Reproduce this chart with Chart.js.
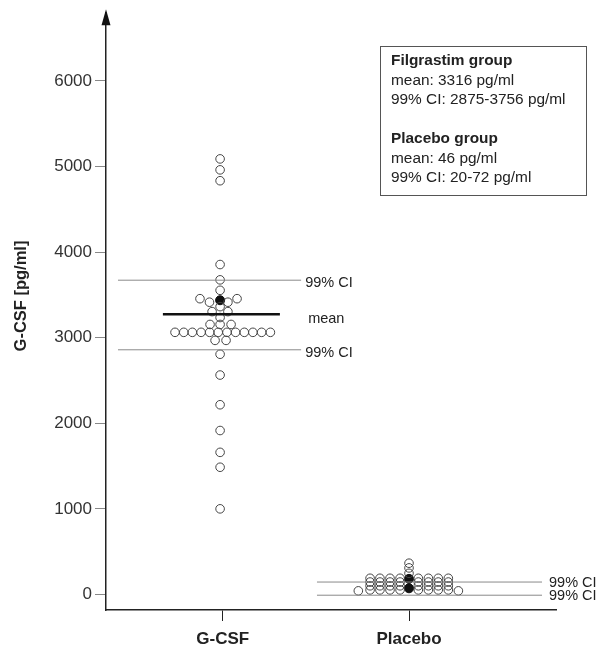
<!DOCTYPE html>
<html>
<head>
<meta charset="utf-8">
<script src="https://cdn.jsdelivr.net/npm/chart.js@4/dist/chart.umd.min.js"></script>
<style>
  html, body { margin: 0; padding: 0; background: #fff; }
  #wrap { width: 603px; height: 649px; }
</style>
</head>
<body>
<div id="wrap"><canvas id="gcsfChart"></canvas></div>
<script>
// categories on the x axis (group 1 = G-CSF, group 2 = Placebo)
const groups = ['G-CSF', 'Placebo'];
const yTicks = [0, 1000, 2000, 3000, 4000, 5000, 6000];

// G-CSF group, single patients (x = group position with dot-plot spread, y = pg/ml)
const gcsfX = [0.986, 0.986, 0.986, 0.986, 0.986, 0.986,
  0.878, 0.929, 1.028, 1.077,
  0.986, 0.943, 1.028, 0.986,
  0.932, 0.986, 1.045,
  0.744, 0.791, 0.837, 0.884, 0.930, 0.976, 1.023, 1.069, 1.116, 1.162, 1.209, 1.256,
  0.959, 1.018,
  0.986, 0.986, 0.986, 0.986, 0.986, 0.986, 0.986];
const gcsfY = [5089, 4961, 4834, 3855, 3676, 3554,
  3456, 3415, 3415, 3456,
  3363, 3305, 3305, 3236,
  3155, 3155, 3155,
  3063, 3063, 3063, 3063, 3063, 3063, 3063, 3063, 3063, 3063, 3063, 3063,
  2969, 2969,
  2807, 2564, 2217, 1916, 1661, 1487, 1001];
const gcsfFilledX = [0.986];
const gcsfFilledY = [3438];

// Placebo group
const placeboX = [1.791, 1.844, 1.898, 1.952, 2.050, 2.104, 2.157, 2.211,
  1.791, 1.844, 1.898, 1.952, 2.050, 2.104, 2.157, 2.211,
  1.791, 1.844, 1.898, 1.952, 2.050, 2.104, 2.157, 2.211,
  1.791, 1.844, 1.898, 1.952, 2.050, 2.104, 2.157, 2.211,
  1.728, 2.265,
  2.0, 2.0, 2.0];
const placeboY = [190, 190, 190, 190, 190, 190, 190, 190,
  146, 146, 146, 146, 146, 146, 146, 146,
  102, 102, 102, 102, 102, 102, 102, 102,
  54, 54, 54, 54, 54, 54, 54, 54,
  43, 43,
  248, 311, 366];
const placeboFilledX = [2.0, 2.0];
const placeboFilledY = [183, 73];

// summary lines (pg/ml)
const gcsfMean = 3274;
const gcsfCI = [2859, 3672];
const placeboCI = [-8, 146];

// text of the box in the upper right
const boxLines = [
  { text: 'Filgrastim group', bold: true },
  { text: 'mean: 3316 pg/ml', bold: false },
  { text: '99% CI: 2875-3756 pg/ml', bold: false },
  { text: '', bold: false },
  { text: 'Placebo group', bold: true },
  { text: 'mean: 46 pg/ml', bold: false },
  { text: '99% CI: 20-72 pg/ml', bold: false }
];

const FONT = "'Liberation Sans', Arial, Helvetica, sans-serif";
Chart.defaults.font.family = FONT;

// horizontal extent of the summary lines, in x-axis units
const gcsfCISpan = [0.438, 1.421];
const gcsfMeanSpan = [0.679, 1.307];
const placeboCISpan = [1.506, 2.714];

function pts(xs, ys) {
  return xs.map((x, i) => ({ x: x, y: ys[i] }));
}
function hline(span, v) {
  return [{ x: span[0], y: v }, { x: span[1], y: v }];
}

const lineStyle = { type: 'line', showLine: true, pointRadius: 0, borderWidth: 1, borderColor: '#8a8a8a', fill: false };

// labels next to the lines, the axis arrow, the y title and the info box
const notesPlugin = {
  id: 'notes',
  afterDraw(chart) {
    const { ctx, chartArea, scales: { x, y } } = chart;
    ctx.save();
    ctx.fillStyle = '#222';
    ctx.textBaseline = 'middle';
    ctx.textAlign = 'left';
    ctx.font = '14.5px ' + FONT;
    const gEnd = x.getPixelForValue(gcsfCISpan[1]);
    gcsfCI.forEach(v => ctx.fillText('99% CI', gEnd + 4, y.getPixelForValue(v) + 3));
    ctx.fillText('mean', gEnd + 7, y.getPixelForValue(gcsfMean) + 5);
    const pEnd = x.getPixelForValue(placeboCISpan[1]);
    placeboCI.forEach(v => ctx.fillText('99% CI', pEnd + 7, y.getPixelForValue(v) + 1));

    // arrow on top of the y axis
    const ax = chartArea.left;
    ctx.fillStyle = '#111';
    ctx.beginPath();
    ctx.moveTo(ax, chartArea.top - 4);
    ctx.lineTo(ax - 4.5, chartArea.top + 12);
    ctx.lineTo(ax + 4.5, chartArea.top + 12);
    ctx.closePath();
    ctx.fill();

    // y axis title
    ctx.save();
    ctx.translate(21.5, 296);
    ctx.rotate(-Math.PI / 2);
    ctx.textAlign = 'center';
    ctx.fillStyle = '#222';
    ctx.font = 'bold 16.5px ' + FONT;
    ctx.fillText('G-CSF [pg/ml]', 0, 0);
    ctx.restore();

    // info box
    ctx.strokeStyle = '#555';
    ctx.lineWidth = 1;
    ctx.strokeRect(380.5, 46.5, 206, 149);
    ctx.fillStyle = '#222';
    boxLines.forEach((l, i) => {
      ctx.font = (l.bold ? 'bold ' : '') + '15.4px ' + FONT;
      ctx.fillText(l.text, 391, 61 + i * 19.5);
    });
    ctx.restore();
  }
};

new Chart(
  document.getElementById('gcsfChart'),
  {
    type: 'scatter',
    data: {
      datasets: [
        Object.assign({ data: hline(gcsfCISpan, gcsfCI[0]) }, lineStyle),
        Object.assign({ data: hline(gcsfCISpan, gcsfCI[1]) }, lineStyle),
        Object.assign({ data: hline(placeboCISpan, placeboCI[0]) }, lineStyle),
        Object.assign({ data: hline(placeboCISpan, placeboCI[1]) }, lineStyle),
        Object.assign({}, lineStyle, { data: hline(gcsfMeanSpan, gcsfMean), borderColor: '#111', borderWidth: 2.5 }),
        {
          label: 'G-CSF',
          data: pts(gcsfX, gcsfY),
          pointRadius: 4.3,
          borderWidth: 1,
          borderColor: '#444',
          backgroundColor: 'rgba(0,0,0,0)'
        },
        {
          label: 'Placebo',
          data: pts(placeboX, placeboY),
          pointRadius: 4.3,
          borderWidth: 1,
          borderColor: '#444',
          backgroundColor: 'rgba(0,0,0,0)'
        },
        {
          label: 'median',
          data: pts(gcsfFilledX.concat(placeboFilledX), gcsfFilledY.concat(placeboFilledY)),
          pointRadius: 4.5,
          borderWidth: 1,
          borderColor: '#111',
          backgroundColor: '#111'
        }
      ]
    },
    options: {
      responsive: true,
      maintainAspectRatio: false,
      animation: false,
      layout: { padding: { top: 8, right: 47, left: 0, bottom: 0 } },
      plugins: {
        legend: { display: false },
        tooltip: { enabled: false }
      },
      scales: {
        x: {
          type: 'linear',
          min: 0.3736,
          max: 2.789,
          afterBuildTicks: s => { s.ticks = groups.map((g, i) => ({ value: i + 1 })); },
          afterFit: s => { s.height = 39; },
          ticks: {
            callback: v => groups[Math.round(v) - 1],
            autoSkip: false,
            maxRotation: 0,
            padding: 8,
            color: '#222',
            font: { size: 17, weight: 'bold' }
          },
          grid: { display: true, drawOnChartArea: false, drawTicks: true, tickLength: 11, color: '#222', lineWidth: 1 },
          border: { display: true, color: '#222', width: 1.5 }
        },
        y: {
          type: 'linear',
          min: -180.7,
          max: 6791,
          afterBuildTicks: s => { s.ticks = yTicks.map(v => ({ value: v })); },
          afterFit: s => { s.width = 106; },
          ticks: {
            callback: v => String(v),
            padding: 3,
            color: '#333',
            font: { size: 17 }
          },
          grid: { display: true, drawOnChartArea: false, drawTicks: true, tickLength: 11, color: '#888', lineWidth: 1 },
          border: { display: true, color: '#222', width: 1.5 }
        }
      }
    },
    plugins: [notesPlugin]
  }
);
</script>
</body>
</html>
